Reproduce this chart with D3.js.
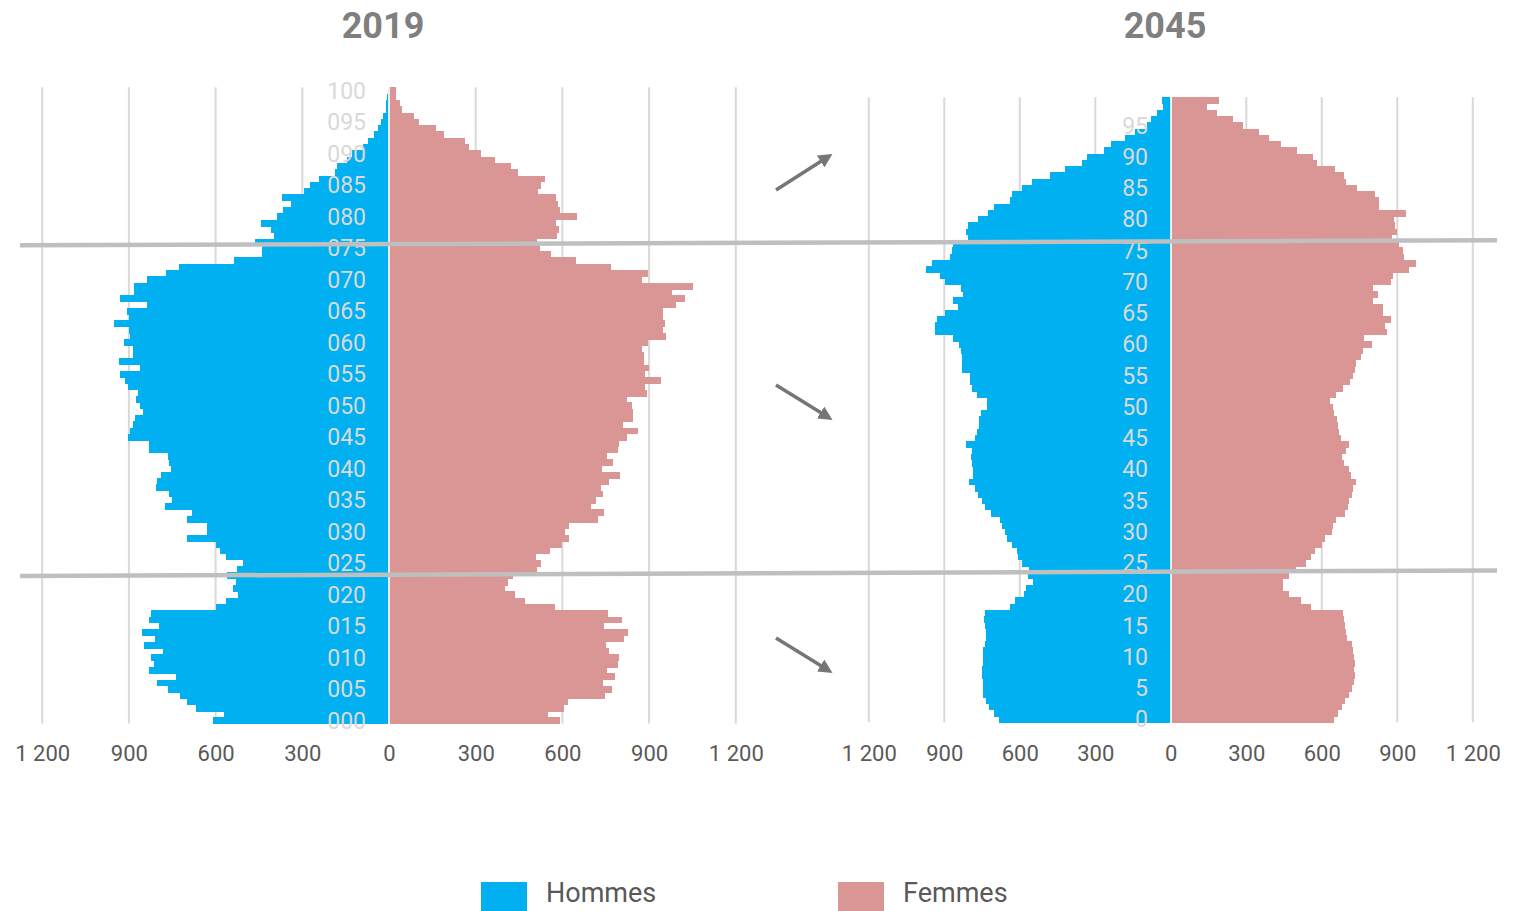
<!DOCTYPE html>
<html><head><meta charset="utf-8">
<script src="https://cdn.jsdelivr.net/npm/d3@7"></script>
<style>
html,body{margin:0;padding:0;background:#fff;}
svg{display:block;font-family:Roboto,"Noto Sans",sans-serif;}
</style></head>
<body>
<svg id="chart" width="1516" height="911"></svg>
<script>
// ---- DATA (ages 0 upward) ----
const years = ["2019", "2045"];
const seriesNames = ["Hommes", "Femmes"];
const men2019 = [608,571,668,698,723,765,802,737,829,812,824,781,847,810,854,797,829,824,600,564,
  521,539,529,559,525,504,564,585,600,698,631,629,700,683,775,751,760,806,802,790,
  754,760,764,830,830,902,896,885,879,850,862,875,870,903,913,931,862,934,885,887,
  917,896,899,951,901,905,838,931,882,882,837,772,727,536,440,440,464,398,408,444,
  389,367,340,369,294,273,241,187,181,146,127,89,71,52,38,28,20,10,10,6,3];
const women2019 = [592,549,607,618,749,773,739,781,755,792,795,762,752,812,826,745,807,757,573,472,
  436,400,411,428,513,525,509,557,597,622,610,622,723,745,698,716,739,735,762,799,
  736,774,753,792,796,822,863,811,843,845,840,824,892,886,941,886,901,882,882,877,
  897,957,947,954,947,947,992,1023,979,1051,875,896,768,647,561,522,511,580,588,578,
  652,592,586,578,514,527,539,448,422,368,320,277,264,190,161,103,87,46,38,24,24];
const men2045 = [681,701,721,734,745,747,747,750,750,747,745,745,738,734,734,738,742,738,639,619,
  583,575,549,566,562,592,606,610,632,652,659,672,679,716,738,751,765,778,801,785,
  785,790,795,790,814,778,769,762,762,754,731,731,769,790,798,798,828,828,828,834,
  843,864,937,937,930,897,844,864,824,834,898,917,973,947,877,870,864,804,815,807,
  765,726,701,639,632,591,551,480,420,353,332,265,236,181,141,96,80,56,30,35];
const women2045 = [648,666,679,693,707,720,728,730,728,730,728,723,719,699,696,693,688,683,556,519,
  468,447,447,468,497,537,556,572,601,611,640,646,655,692,705,709,720,723,736,715,
  707,687,681,696,708,677,670,666,659,650,643,632,656,684,713,723,730,734,754,762,
  799,768,858,852,875,844,844,805,823,802,874,884,946,973,928,921,907,880,897,892,
  888,933,826,828,810,739,695,687,651,580,564,500,438,389,350,286,246,184,144,191];
const tickValues = [0, 300, 600, 900, 1200];
const ageLabels2019 = ["000","005","010","015","020","025","030","035","040","045","050","055","060","065","070","075","080","085","090","095","100"];
const ageLabels2045 = ["0","5","10","15","20","25","30","35","40","45","50","55","60","65","70","75","80","85","90","95"];

const BLUE = "#00b0f0", PINK = "#d99694", GRID = "#d9d9d9";
const svg = d3.select("#chart");
const fmt = v => v >= 1000 ? d3.format(",")(v).replace(",", " ") : String(v);

function pyramid(cfg) {
  const g = svg.append("g");
  const n = cfg.men.length;
  const ages = d3.range(n).reverse();
  const y = d3.scaleBand().domain(ages).range([cfg.top, cfg.bottom]).padding(0);
  const xM = d3.scaleLinear().domain([0, 1200]).range([cfg.cx, cfg.cx - cfg.half]);
  const xF = d3.scaleLinear().domain([0, 1200]).range([cfg.cx, cfg.cx + cfg.half]);

  // gridlines
  const gv = tickValues.filter(v => v > 0);
  g.selectAll(".gm").data(gv).join("line")
    .attr("x1", d => xM(d)).attr("x2", d => xM(d))
    .attr("y1", cfg.top).attr("y2", cfg.bottom)
    .attr("stroke", GRID).attr("stroke-width", 2);
  g.selectAll(".gf").data(gv).join("line")
    .attr("x1", d => xF(d)).attr("x2", d => xF(d))
    .attr("y1", cfg.top).attr("y2", cfg.bottom)
    .attr("stroke", GRID).attr("stroke-width", 2);

  // bars
  const bars = g.append("g").attr("shape-rendering", "crispEdges");
  bars.selectAll(".bm").data(cfg.men).join("rect")
    .attr("x", d => xM(d)).attr("y", (d, i) => y(i))
    .attr("width", d => Math.max(0, xM(0) - xM(d) - 1)).attr("height", y.bandwidth() + 0.6)
    .attr("fill", BLUE);
  bars.selectAll(".bf").data(cfg.women).join("rect")
    .attr("x", xF(0) + 1).attr("y", (d, i) => y(i))
    .attr("width", d => Math.max(0, xF(d) - xF(0) - 1)).attr("height", y.bandwidth() + 0.6)
    .attr("fill", PINK);
  g.append("line").attr("x1", cfg.cx).attr("x2", cfg.cx)
    .attr("y1", cfg.top).attr("y2", cfg.bottom)
    .attr("stroke", "#e6e6e6").attr("stroke-width", 1.5);

  // age labels
  g.selectAll(".al").data(cfg.labels).join("text")
    .attr("x", cfg.labelX).attr("y", (d, i) => y(i * 5) + y.bandwidth() / 2)
    .attr("dy", "0.36em").attr("text-anchor", "end")
    .attr("font-size", 23).attr("fill", "#d9d9d9").text(d => d);

  // axes
  const axM = d3.axisBottom(xM).tickValues(tickValues).tickSize(0).tickPadding(22).tickFormat(fmt);
  const axF = d3.axisBottom(xF).tickValues(tickValues.filter(v => v > 0)).tickSize(0).tickPadding(22).tickFormat(fmt);
  [axM, axF].forEach(ax => {
    const a = g.append("g").attr("transform", `translate(0,${cfg.axisY})`).call(ax);
    a.select(".domain").remove();
    a.selectAll("text").attr("font-size", 22).attr("fill", "#595959")
      .attr("font-family", "Roboto, 'Noto Sans', sans-serif");
  });

  // title
  svg.append("text").attr("x", cfg.titleX).attr("y", 38).attr("text-anchor", "middle")
    .attr("font-size", 36).attr("font-weight", "bold").attr("fill", "#7f7f7f").text(cfg.title);
}

pyramid({men: men2019, women: women2019, cx: 389, half: 346.8, top: 87.3, bottom: 723.6,
  labels: ageLabels2019, labelX: 366, axisY: 723, title: years[0], titleX: 383});
pyramid({men: men2045, women: women2045, cx: 1170.8, half: 302, top: 97.3, bottom: 722.3,
  labels: ageLabels2045, labelX: 1148, axisY: 723, title: years[1], titleX: 1165});

// cross lines
const crossLines = [[[20, 245.3], [1497, 240.3]], [[20, 576], [1497, 570.5]]];
svg.selectAll(".cl").data(crossLines).join("line")
  .attr("x1", d => d[0][0]).attr("y1", d => d[0][1])
  .attr("x2", d => d[1][0]).attr("y2", d => d[1][1])
  .attr("stroke", "#bfbfbf").attr("stroke-width", 4.5);

// arrows
const defs = svg.append("defs");
defs.append("marker").attr("id", "ah").attr("viewBox", "0 0 10 10")
  .attr("refX", 2).attr("refY", 5).attr("markerWidth", 4).attr("markerHeight", 4)
  .attr("orient", "auto").attr("markerUnits", "strokeWidth")
  .append("path").attr("d", "M0,0 L10,5 L0,10 z").attr("fill", "#767676");
const arrows = [[[776, 190], [823, 160]], [[776, 385], [823, 414]], [[776, 638], [823, 667]]];
svg.selectAll(".ar").data(arrows).join("line")
  .attr("x1", d => d[0][0]).attr("y1", d => d[0][1])
  .attr("x2", d => d[1][0]).attr("y2", d => d[1][1])
  .attr("stroke", "#767676").attr("stroke-width", 3.5)
  .attr("marker-end", "url(#ah)");

// legend
const legend = svg.append("g");
const lx = [481, 838];
seriesNames.forEach((s, i) => {
  legend.append("rect").attr("x", lx[i]).attr("y", 882).attr("width", 46).attr("height", 29)
    .attr("fill", i === 0 ? BLUE : PINK);
  legend.append("text").attr("x", lx[i] + 65).attr("y", 902).attr("font-size", 27)
    .attr("fill", "#595959").text(s);
});
</script>
</body></html>
